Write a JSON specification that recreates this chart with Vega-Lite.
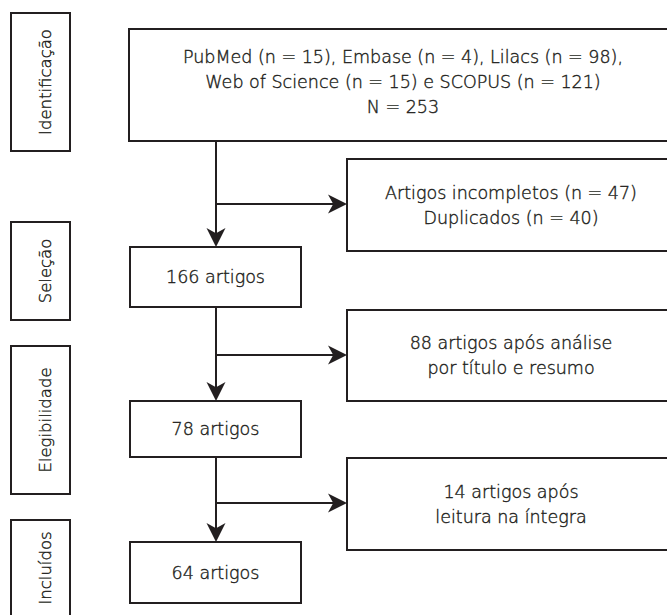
{
  "$schema": "https://vega.github.io/schema/vega-lite/v6.json",
  "width": 667,
  "height": 615,
  "padding": 0,
  "autosize": {"type": "none"},
  "background": "white",
  "config": {"view": {"stroke": null}},
  "datasets": {
    "boxes": [
      {"x1": 129, "x2": 680, "y1": 29, "y2": 141},
      {"x1": 347, "x2": 680, "y1": 159, "y2": 251},
      {"x1": 130, "x2": 301, "y1": 247, "y2": 307},
      {"x1": 347, "x2": 680, "y1": 310, "y2": 401},
      {"x1": 130, "x2": 301, "y1": 401, "y2": 457},
      {"x1": 347, "x2": 680, "y1": 458, "y2": 550},
      {"x1": 130, "x2": 301, "y1": 542, "y2": 603},
      {"x1": 11, "x2": 70, "y1": 13, "y2": 151},
      {"x1": 11, "x2": 70, "y1": 222, "y2": 320},
      {"x1": 11, "x2": 70, "y1": 346, "y2": 494},
      {"x1": 11, "x2": 70, "y1": 520, "y2": 640}
    ],
    "lines": [
      {"x1": 216, "x2": 216, "y1": 141, "y2": 240},
      {"x1": 216, "x2": 340, "y1": 204, "y2": 204},
      {"x1": 216, "x2": 216, "y1": 307, "y2": 393},
      {"x1": 216, "x2": 340, "y1": 355, "y2": 355},
      {"x1": 216, "x2": 216, "y1": 457, "y2": 535},
      {"x1": 216, "x2": 340, "y1": 503, "y2": 503}
    ],
    "arrows": [
      {"x": 337.5, "y": 204, "dir": "right"},
      {"x": 337.5, "y": 355, "dir": "right"},
      {"x": 337.5, "y": 503, "dir": "right"},
      {"x": 216, "y": 237.5, "dir": "down"},
      {"x": 216, "y": 391.5, "dir": "down"},
      {"x": 216, "y": 532.5, "dir": "down"}
    ],
    "labels": [
      {"x": 403, "y": 63, "text": "PubMed (n = 15), Embase (n = 4), Lilacs (n = 98),"},
      {"x": 403, "y": 88, "text": "Web of Science (n = 15) e SCOPUS (n = 121)"},
      {"x": 403, "y": 113, "text": "N = 253"},
      {"x": 511, "y": 199, "text": "Artigos incompletos (n = 47)"},
      {"x": 511, "y": 224, "text": "Duplicados (n = 40)"},
      {"x": 215.5, "y": 283, "text": "166 artigos"},
      {"x": 511, "y": 349, "text": "88 artigos após análise"},
      {"x": 511, "y": 374, "text": "por título e resumo"},
      {"x": 215.5, "y": 435, "text": "78 artigos"},
      {"x": 511, "y": 498, "text": "14 artigos após"},
      {"x": 511, "y": 523, "text": "leitura na íntegra"},
      {"x": 215.5, "y": 579, "text": "64 artigos"}
    ],
    "side": [
      {"x": 51, "y": 82, "text": "Identificação"},
      {"x": 51, "y": 271, "text": "Seleção"},
      {"x": 51, "y": 420, "text": "Elegibilidade"},
      {"x": 51, "y": 568, "text": "Incluídos"}
    ]
  },
  "layer": [
    {
      "data": {"name": "boxes"},
      "mark": {"type": "rect", "filled": false, "stroke": "#231f20", "strokeWidth": 2, "clip": true},
      "encoding": {
        "x": {"field": "x1", "type": "quantitative", "scale": {"domain": [0, 667], "nice": false, "zero": false}, "axis": null},
        "x2": {"field": "x2"},
        "y": {"field": "y1", "type": "quantitative", "scale": {"domain": [0, 615], "nice": false, "zero": false, "reverse": true}, "axis": null},
        "y2": {"field": "y2"}
      }
    },
    {
      "data": {"name": "lines"},
      "mark": {"type": "rule", "stroke": "#231f20", "strokeWidth": 2},
      "encoding": {
        "x": {"field": "x1", "type": "quantitative", "axis": null},
        "x2": {"field": "x2"},
        "y": {"field": "y1", "type": "quantitative", "axis": null},
        "y2": {"field": "y2"}
      }
    },
    {
      "data": {"name": "arrows"},
      "mark": {"type": "point", "filled": true, "color": "#231f20", "opacity": 1, "size": 361, "strokeWidth": 0},
      "encoding": {
        "x": {"field": "x", "type": "quantitative", "axis": null},
        "y": {"field": "y", "type": "quantitative", "axis": null},
        "shape": {
          "field": "dir", "type": "nominal", "legend": null,
          "scale": {"domain": ["right", "down"], "range": ["M-1,-1L1,0L-1,1L-0.45,0Z", "M-1,-1L0,1L1,-1L0,-0.45Z"]}
        }
      }
    },
    {
      "data": {"name": "labels"},
      "mark": {"type": "text", "font": "DejaVu Sans", "fontWeight": 300, "fontSize": 17.5, "fill": "#231f20", "stroke": "#231f20", "strokeWidth": 0.4, "align": "center", "baseline": "alphabetic"},
      "encoding": {
        "x": {"field": "x", "type": "quantitative", "axis": null},
        "y": {"field": "y", "type": "quantitative", "axis": null},
        "text": {"field": "text", "type": "nominal"}
      }
    },
    {
      "data": {"name": "side"},
      "mark": {"type": "text", "font": "DejaVu Sans", "fontWeight": 300, "fontSize": 16.5, "fill": "#231f20", "stroke": "#231f20", "strokeWidth": 0.4, "align": "center", "baseline": "alphabetic", "angle": 270},
      "encoding": {
        "x": {"field": "x", "type": "quantitative", "axis": null},
        "y": {"field": "y", "type": "quantitative", "axis": null},
        "text": {"field": "text", "type": "nominal"}
      }
    }
  ]
}
